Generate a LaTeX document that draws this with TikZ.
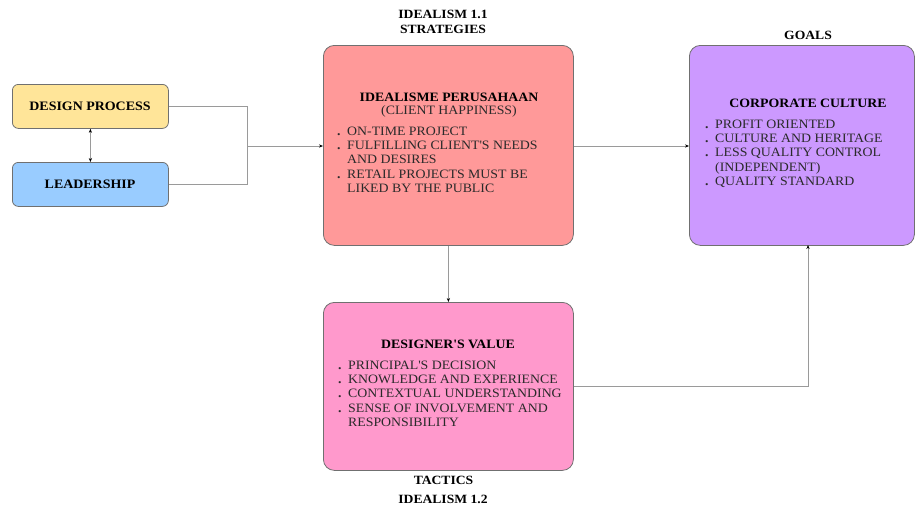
\documentclass[tikz,border=0pt]{standalone}
\usepackage{fontspec}
\setmainfont[FakeStretch=1.08]{Liberation Serif}
\usetikzlibrary{arrows.meta}
\definecolor{cyel}{HTML}{FFE599}
\definecolor{cblu}{HTML}{99CCFF}
\definecolor{cred}{HTML}{FF9999}
\definecolor{cpur}{HTML}{CC99FF}
\definecolor{cpnk}{HTML}{FF99CC}
\definecolor{bord}{HTML}{707070}
\definecolor{lgray}{HTML}{9A9A9A}
\definecolor{itxt}{HTML}{2A2A2A}
\newcommand{\bul}{\makebox[10pt][l]{\textbf{.}}}
\newcommand{\hang}{\hspace*{10pt}}
\newcommand{\apo}{\textquotesingle}
\tikzset{
  smallbox/.style={draw=bord, line width=0.8pt, rounded corners=6pt, minimum width=156pt, minimum height=44pt, anchor=north west, inner sep=0pt},
  bigbox/.style={draw=bord, line width=0.8pt, rounded corners=11pt, anchor=north west, inner sep=0pt},
  ttl/.style={font=\fontsize{12.8}{14}\selectfont\bfseries, align=center, inner sep=0pt},
  lbl/.style={font=\fontsize{12.6}{15}\selectfont\bfseries, align=center, inner sep=0pt},
  items/.style={font=\fontsize{12.8}{14.4}\selectfont, text=itxt, align=left, anchor=north west, inner sep=0pt},
  conn/.style={draw=lgray, line width=0.8pt},
  arr/.style={conn, -{Stealth[length=4pt,width=3.2pt,black]}},
}
\begin{document}
\begin{tikzpicture}[x=1pt,y=-1pt]
\useasboundingbox (0,0) rectangle (915,507);
% left boxes
\node[smallbox, fill=cyel] (dp) at (12,84) {};
\node[ttl, font=\fontsize{12.9}{14}\selectfont\bfseries] (dpt) at (90,106) {DESIGN PROCESS};
\node[smallbox, fill=cblu] (ld) at (12,162) {};
\node[ttl, font=\fontsize{12.9}{14}\selectfont\bfseries] (ldt) at (90,184.5) {LEADERSHIP};
% center box
\node[bigbox, fill=cred, minimum width=250pt, minimum height=200pt] (cb) at (323,45) {};
\node[ttl] (cbt) at (449,97) {IDEALISME PERUSAHAAN};
\node[items, anchor=center, text=itxt] (cbs) at (449,111) {(CLIENT HAPPINESS)};
\node[items] (cbi) at (337,126.5) {\bul ON-TIME PROJECT\\
\bul FULFILLING CLIENT\apo S NEEDS\\
\hang AND DESIRES\\
\bul RETAIL PROJECTS MUST BE\\
\hang LIKED BY THE PUBLIC};
\node[lbl] (l11) at (443,21.5) {IDEALISM 1.1\\STRATEGIES};
% right box
\node[bigbox, fill=cpur, minimum width=225pt, minimum height=200pt] (gb) at (689,45) {};
\node[ttl] (gbt) at (808,103) {CORPORATE CULTURE};
\node[items] (gbi) at (705,119.5) {\bul PROFIT ORIENTED\\
\bul CULTURE AND HERITAGE\\
\bul LESS QUALITY CONTROL\\
\hang (INDEPENDENT)\\
\bul QUALITY STANDARD};
\node[lbl] (goals) at (808,35) {GOALS};
% bottom box
\node[bigbox, fill=cpnk, minimum width=250pt, minimum height=168pt] (bb) at (323,302) {};
\node[ttl] (bbt) at (448,344) {DESIGNER\apo S VALUE};
\node[items] (bbi) at (338,360.5) {\bul PRINCIPAL\apo S DECISION\\
\bul KNOWLEDGE AND EXPERIENCE\\
\bul CONTEXTUAL UNDERSTANDING\\
\bul SENSE OF INVOLVEMENT AND\\
\hang RESPONSIBILITY};
\node[lbl] (tac) at (443.5,480.5) {TACTICS};
\node[lbl] (l12) at (443,499) {IDEALISM 1.2};
% connectors
\coordinate (j) at (247,146);
\draw[conn] (dp.east) -| (j);
\draw[conn] (ld.east) -| (j);
\draw[arr] (j) -- (j -| cb.west);
\draw[conn, {Stealth[length=4pt,width=3.2pt,black]}-{Stealth[length=4pt,width=3.2pt,black]}] (dp.south) -- (ld.north);
\draw[arr] (cb.east |- j) -- (gb.west |- j);
\draw[arr] (cb.south) -- (bb.north);
\coordinate (gbin) at (808,245);
\draw[arr] (bb.east) -| (gbin);
\end{tikzpicture}
\end{document}
